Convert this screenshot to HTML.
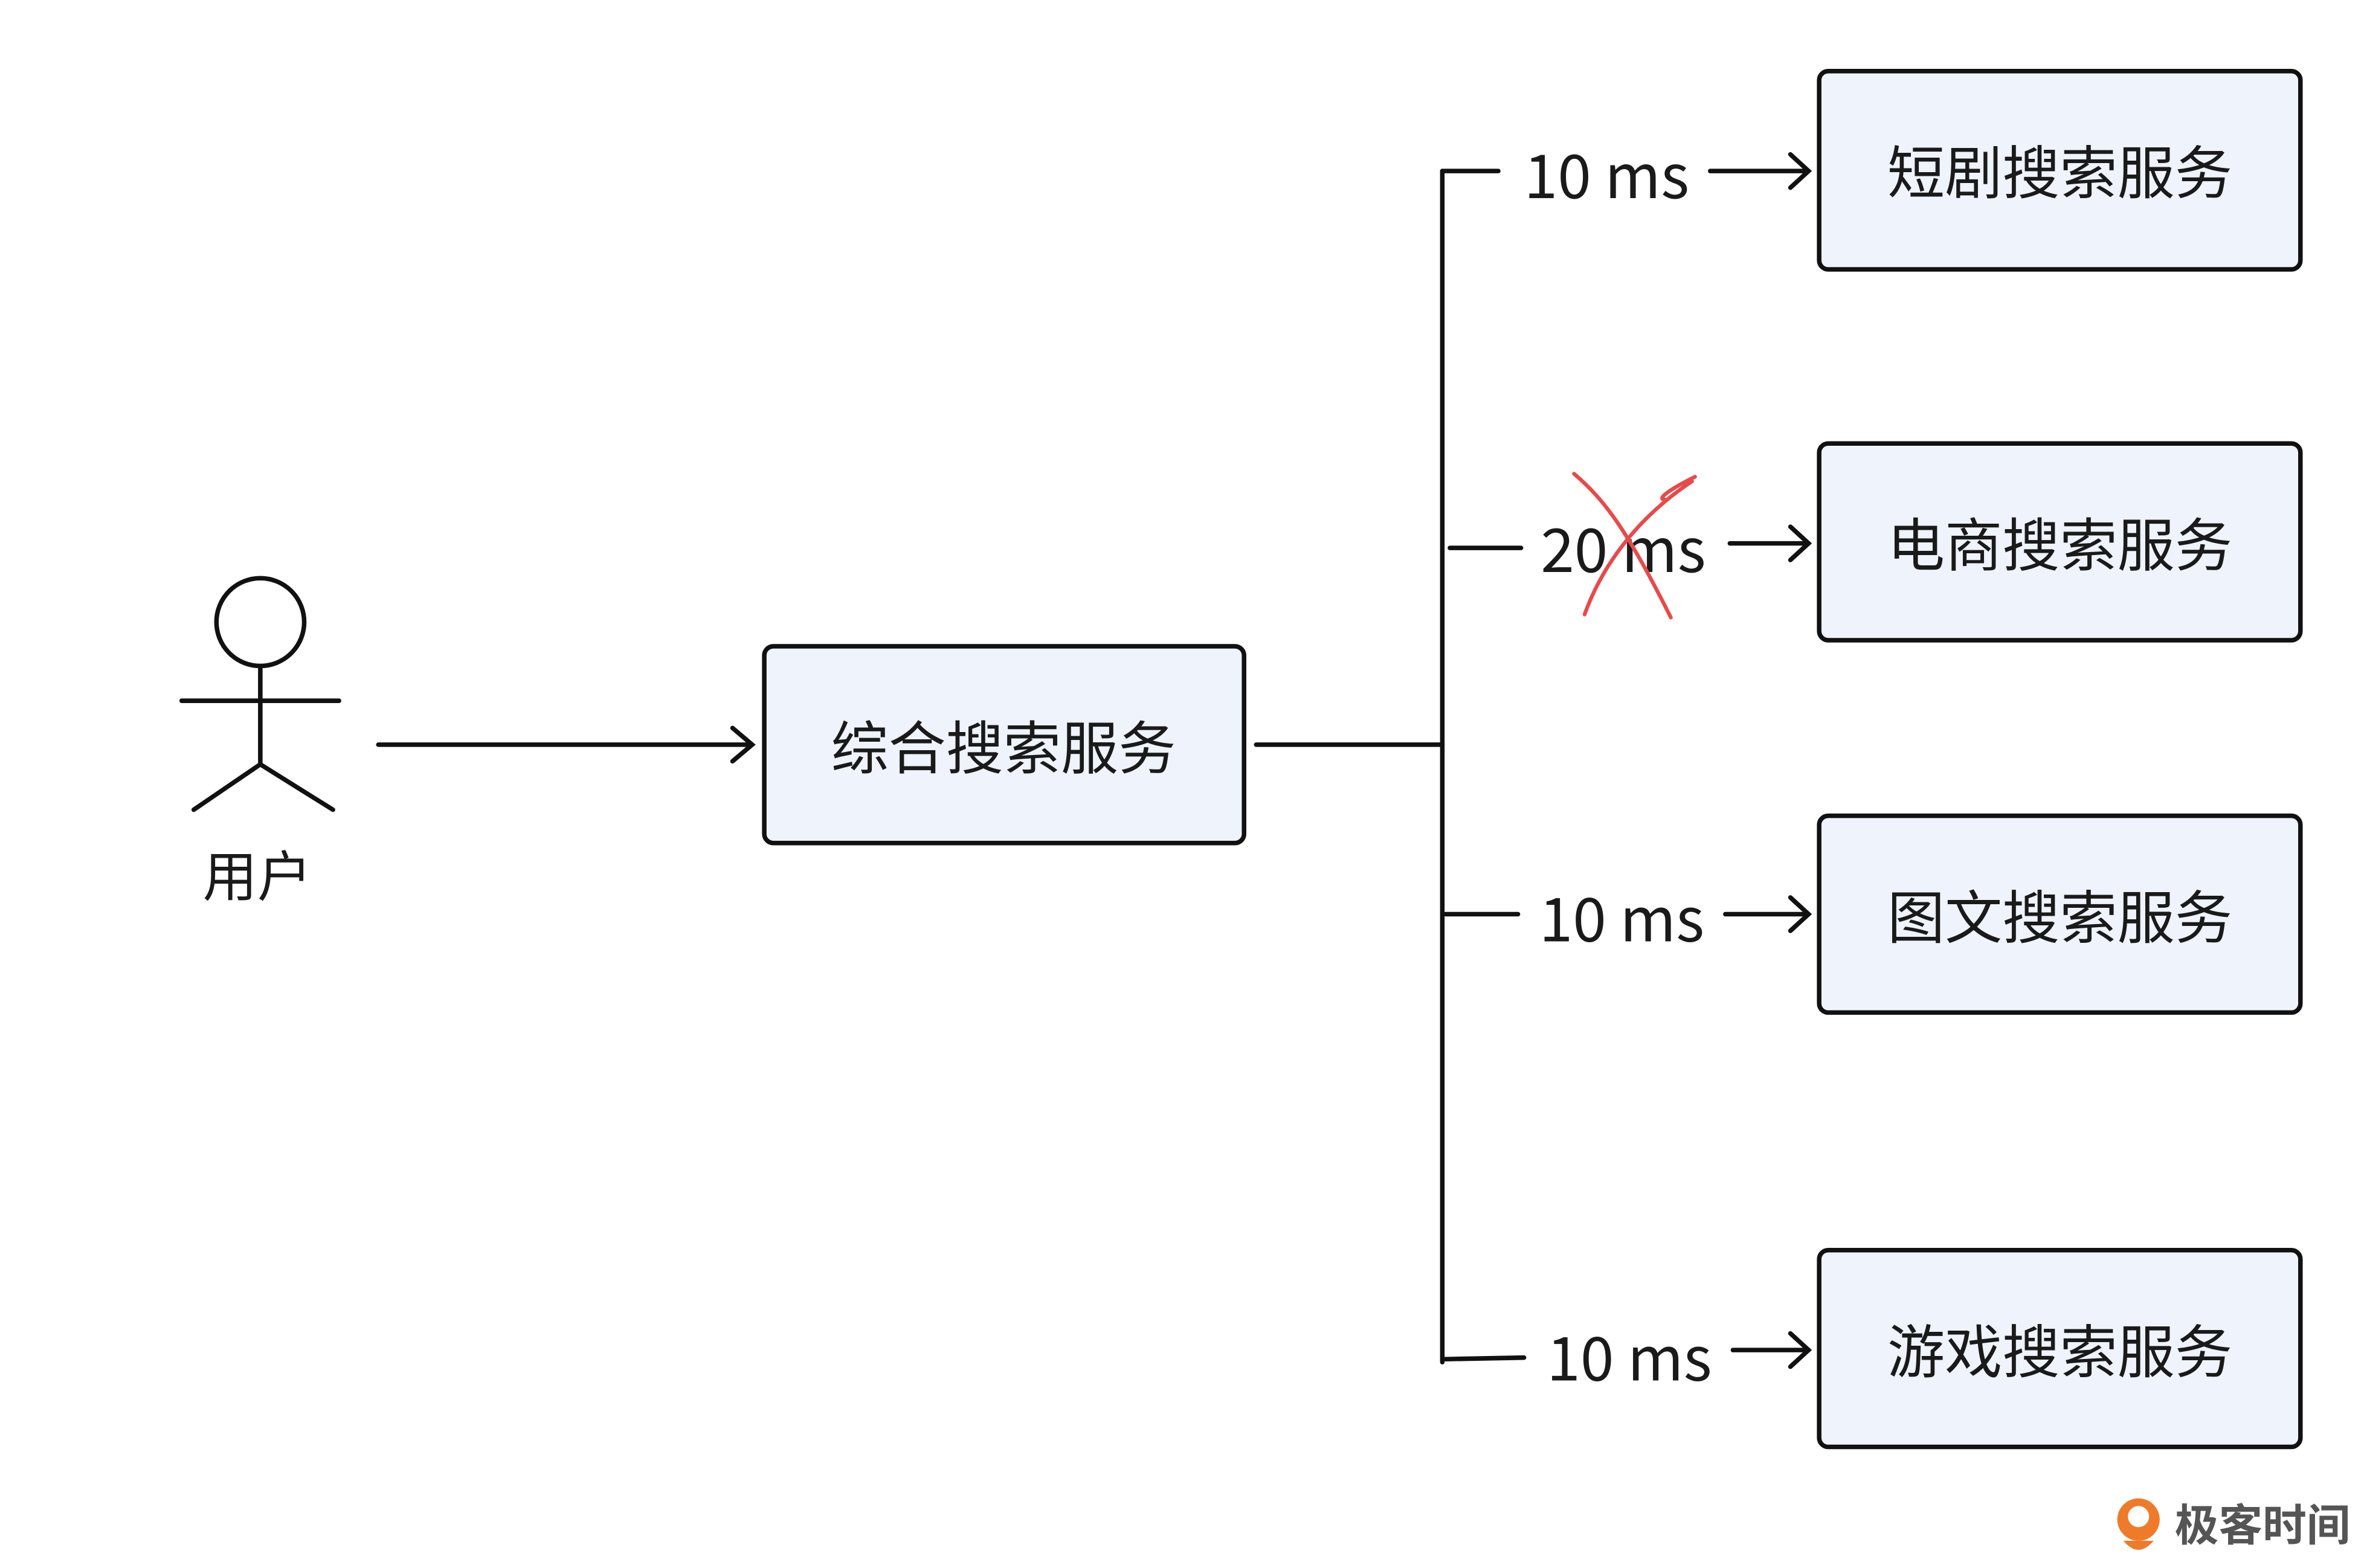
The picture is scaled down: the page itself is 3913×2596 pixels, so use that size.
<!DOCTYPE html>
<html><head><meta charset="utf-8"><style>
html,body{margin:0;padding:0;background:#fff;}
svg{display:block;}
text{font-family:"Noto Sans CJK SC","Liberation Sans",sans-serif;fill:#1a1a1a;}
</style></head><body>
<svg width="3913" height="2596" viewBox="0 0 1562 1036" preserveAspectRatio="none" xmlns="http://www.w3.org/2000/svg">
<g fill="#eef3fc" stroke="#111" stroke-width="3">
<rect x="1202" y="47" width="318" height="131" rx="6"/>
<rect x="1202" y="293" width="318" height="130" rx="6"/>
<rect x="1202" y="539" width="318" height="130" rx="6"/>
<rect x="1202" y="826" width="318" height="130" rx="6"/>
<rect x="505" y="427" width="317" height="130" rx="6"/>
</g>
<g font-size="38" text-anchor="middle">
<text x="1361" y="128">短剧搜索服务</text>
<text x="1361" y="374">电商搜索服务</text>
<text x="1361" y="620">图文搜索服务</text>
<text x="1361" y="907">游戏搜索服务</text>
<text x="663" y="508">综合搜索服务</text>
<text x="170" y="592" font-size="36">用户</text>
</g>
<g stroke="#111" stroke-width="3" fill="none" stroke-linecap="round">
<circle cx="172" cy="411" r="29"/>
<line x1="120" y1="463" x2="224" y2="463"/>
<line x1="172" y1="441" x2="172" y2="505"/>
<polyline points="128,535 172,505 220,535"/>
<line x1="250" y1="492" x2="496" y2="492"/>
<polyline points="484,481 497,492 484,503"/>
<line x1="830" y1="492" x2="953" y2="492"/>
<line x1="953" y1="113" x2="953" y2="900"/>
<line x1="953" y1="113" x2="990" y2="113"/>
<line x1="958" y1="362" x2="1005" y2="362"/>
<line x1="955" y1="604" x2="1003" y2="604"/>
<line x1="955" y1="898" x2="1007" y2="897"/>
<line x1="1130" y1="113" x2="1195" y2="113"/><polyline points="1183,102 1195,113 1183,124"/>
<line x1="1143" y1="359" x2="1195" y2="359"/><polyline points="1183,348 1195,359 1183,370"/>
<line x1="1140" y1="604" x2="1195" y2="604"/><polyline points="1183,593 1195,604 1183,615"/>
<line x1="1145" y1="892" x2="1195" y2="892"/><polyline points="1183,881 1195,892 1183,903"/>
</g>
<g font-size="40">
<text x="1007" y="131">10 ms</text>
<text x="1018" y="378">20 ms</text>
<text x="1017" y="622">10 ms</text>
<text x="1022" y="912">10 ms</text>
</g>
<g stroke="#e84a4a" stroke-width="2.5" fill="none" stroke-linecap="round">
<path d="M1040,313 C1060,330 1075,350 1104,408"/>
<path d="M1120,315 C1100,325 1095,330 1100,330 M1118,318 C1085,340 1060,370 1047,406"/>
</g>
<g>
<circle cx="1413" cy="1004" r="14" fill="#ee7a2a"/>
<circle cx="1413" cy="1002" r="7" fill="#fff"/>
<path d="M1403,1018 Q1413,1030 1423,1018 Z" fill="#ee7a2a"/>
<text x="1437" y="1018" font-size="29" style="fill:#555;font-weight:bold">极客时间</text>
</g>
</svg>
</body></html>
